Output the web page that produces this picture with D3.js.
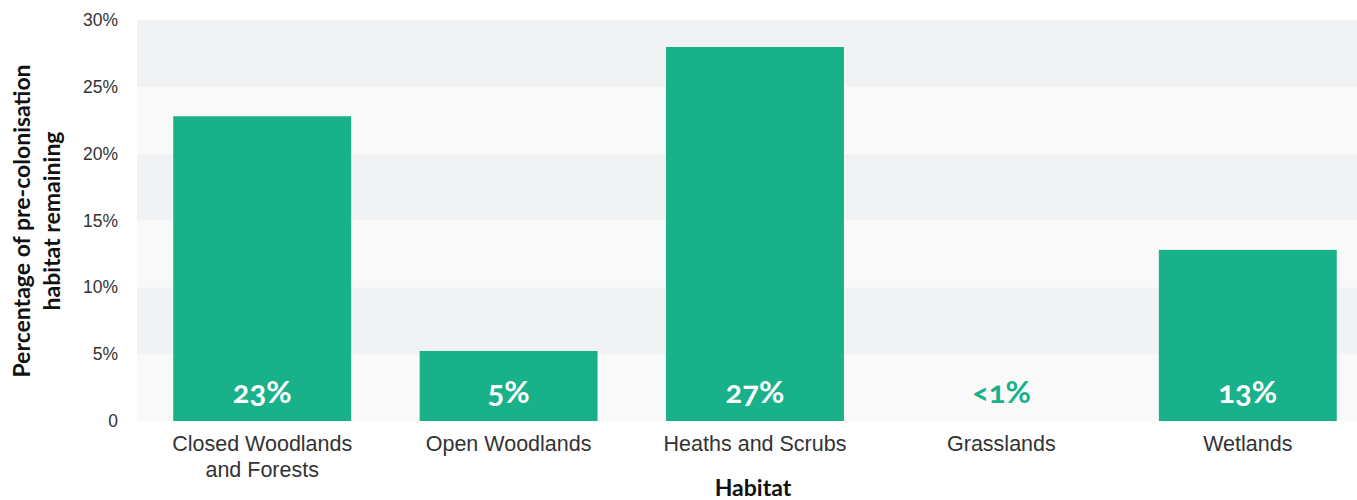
<!DOCTYPE html>
<html>
<head>
<meta charset="utf-8">
<script src="https://cdn.jsdelivr.net/npm/d3@7"></script>
<style>
  html, body { margin: 0; padding: 0; background: #fff; }
  svg { display: block; font-family: Lato, "Open Sans", sans-serif; }
  .tick-y { font-size: 17.5px; fill: #333; font-weight: 300; font-feature-settings: "onum"; }
  .tick-x { font-size: 21.5px; fill: #333; font-weight: 300; }
  .axis-title { font-size: 23px; font-weight: 700; fill: #111; }
  .val { font-size: 31px; font-weight: 700; font-feature-settings: "onum"; }
</style>
</head>
<body>
<svg id="chart" width="1357" height="500"></svg>
<script>
const categories = [["Closed Woodlands", "and Forests"], ["Open Woodlands"], ["Heaths and Scrubs"], ["Grasslands"], ["Wetlands"]];
const values = [22.8, 5.24, 27.98, 0, 12.8];
const valueLabels = ["23%", "5%", "27%", "<1%", "13%"];
const yTicks = [0, 5, 10, 15, 20, 25, 30];
const yTickLabels = ["0", "5%", "10%", "15%", "20%", "25%", "30%"];

const svg = d3.select("#chart");
const plotLeft = 137, plotRight = 1357, plotTop = 20, plotBottom = 421;
const green = "#18b189";

const keys = categories.map(c => c.join(" "));
const x = d3.scaleBand().domain(keys).range([139, 1371]).paddingInner(0.278).paddingOuter(0.139);
const y = d3.scaleLinear().domain([0, 30]).range([plotBottom, plotTop]);

// background bands
const bands = d3.pairs(yTicks);
svg.append("g").selectAll("rect").data(bands).join("rect")
  .attr("x", plotLeft).attr("width", plotRight - plotLeft)
  .attr("y", d => y(d[1])).attr("height", d => y(d[0]) - y(d[1]))
  .attr("fill", (d, i) => i % 2 === 0 ? "#f9f9f9" : "#f1f2f4");

// bars
svg.append("g").selectAll("rect").data(values).join("rect")
  .attr("x", (d, i) => x(keys[i])).attr("width", x.bandwidth())
  .attr("y", d => y(d)).attr("height", d => y(0) - y(d))
  .attr("fill", green);

// value labels
svg.append("g").selectAll("text").data(valueLabels).join("text")
  .attr("class", "val")
  .attr("x", (d, i) => x(keys[i]) + x.bandwidth() / 2)
  .attr("y", 403)
  .attr("text-anchor", "middle")
  .attr("fill", (d, i) => values[i] > 2 ? "#fff" : green)
  .text(d => d);

// y axis
const yAxis = d3.axisLeft(y).tickValues(yTicks).tickFormat((d, i) => yTickLabels[i]).tickSize(0).tickPadding(0);
const gy = svg.append("g").attr("transform", "translate(118,0)").call(yAxis);
gy.select(".domain").remove();
gy.selectAll("text").attr("class", "tick-y").attr("dy", "0.32em").attr("font-family", null).attr("font-size", null).attr("fill", null);

// x axis
const xAxis = d3.axisBottom(x).tickSize(0).tickPadding(0).tickFormat(() => "");
const gx = svg.append("g").attr("transform", `translate(0,${plotBottom})`).call(xAxis);
gx.select(".domain").remove();
gx.selectAll(".tick").each(function(d, i) {
  const t = d3.select(this).select("text").attr("class", "tick-x").attr("font-family", null).attr("font-size", null).attr("fill", null).attr("y", 0).attr("dy", null);
  categories[i].forEach((line, j) => {
    t.append("tspan").attr("x", 0).attr("y", 30 + j * 26).text(line);
  });
});

// axis titles
svg.append("text").attr("class", "axis-title").attr("x", 753).attr("y", 496).attr("text-anchor", "middle").text("Habitat");
const yt = svg.append("text").attr("class", "axis-title").attr("text-anchor", "middle")
  .attr("transform", "translate(0,221) rotate(-90)");
yt.append("tspan").attr("x", 0).attr("y", 30).text("Percentage of pre-colonisation");
yt.append("tspan").attr("x", 0).attr("y", 60).text("habitat remaining");
</script>
</body>
</html>
